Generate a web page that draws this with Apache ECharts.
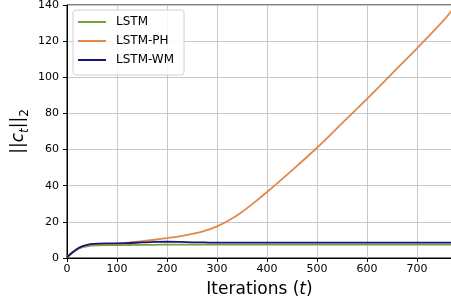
<!DOCTYPE html>
<html>
<head>
<meta charset="utf-8">
<script src="https://cdn.jsdelivr.net/npm/echarts@6/dist/echarts.min.js"></script>
<style>
  html, body { margin: 0; padding: 0; background: #fff; }
  #chart { width: 451px; height: 305px; }
</style>
</head>
<body>
<div id="chart"></div>
<script>
var iterations = [0, 10, 20, 30, 40, 50, 60, 80, 100, 125, 150, 175, 200, 225, 250, 275, 300, 325, 350, 375, 400, 450, 500, 550, 600, 650, 700, 750, 770];
var lstm   = [0.3, 2.7, 4.6, 5.8, 6.5, 6.9, 7.0, 7.1, 7.1, 7.2, 7.3, 7.3, 7.4, 7.4, 7.4, 7.4, 7.4, 7.4, 7.4, 7.4, 7.4, 7.4, 7.4, 7.4, 7.4, 7.4, 7.4, 7.4, 7.4];
var lstmPH = [0.3, 2.9, 4.9, 6.2, 7.0, 7.4, 7.6, 7.8, 8.0, 8.6, 9.3, 10.1, 11.0, 12.0, 13.3, 15.0, 17.5, 21.0, 25.5, 30.8, 36.5, 48.5, 61.0, 74.5, 88.0, 102.0, 116.0, 130.5, 137.0];
var lstmWM = [0.3, 2.9, 5.0, 6.4, 7.3, 7.8, 8.0, 8.1, 8.1, 8.3, 8.6, 8.9, 9.0, 8.9, 8.7, 8.6, 8.5, 8.5, 8.5, 8.5, 8.5, 8.5, 8.5, 8.5, 8.5, 8.5, 8.5, 8.5, 8.5];
var seriesNames = ['LSTM', 'LSTM-PH', 'LSTM-WM'];
var seriesColors = ['#74a23c', '#e0894a', '#16167a'];

function pairs(ys) {
    return iterations.map(function (x, i) {
        return [x, ys[i]];
    });
}

var font = 'DejaVu Sans';
var labelStyle = {
    n: { fontFamily: font, fontSize: 17, color: '#000', padding: [0, 0, 4, 0], verticalAlign: 'top' },
    i: { fontFamily: font, fontSize: 17, color: '#000', fontStyle: 'italic', padding: [0, 0, 4, 0], verticalAlign: 'top' },
    s: { fontFamily: font, fontSize: 12, color: '#000', fontStyle: 'italic', verticalAlign: 'bottom' },
    s2: { fontFamily: font, fontSize: 12, color: '#000', verticalAlign: 'bottom' }
};

var chart = echarts.init(document.getElementById('chart'));
chart.setOption({
    animation: false,
    textStyle: { fontFamily: font },
    grid: {
        left: 67, right: -1, top: 5, bottom: 47,
        containLabel: false,
        outerBoundsMode: 'none',
        show: true,
        borderColor: '#000',
        borderWidth: 1
    },
    legend: {
        data: seriesNames,
        orient: 'vertical',
        left: 73,
        top: 10,
        icon: 'rect',
        itemWidth: 28,
        itemHeight: 2,
        itemGap: 5,
        padding: [5, 10, 8, 5],
        backgroundColor: 'rgba(255,255,255,0.85)',
        borderColor: '#d0d0d0',
        borderWidth: 1,
        borderRadius: 3,
        textStyle: { fontFamily: font, fontSize: 12, color: '#000', padding: [0, 0, 0, 5], lineHeight: 14 }
    },
    xAxis: {
        type: 'value',
        min: 0,
        max: 770,
        interval: 100,
        name: '{n|Iterations (}{i|t}{n|)}',
        nameLocation: 'middle',
        nameGap: 23,
        nameMoveOverlap: false,
        nameTextStyle: { rich: labelStyle },
        axisLine: { show: true, lineStyle: { color: '#000', width: 1 } },
        axisTick: { show: true, length: 4, lineStyle: { color: '#000' } },
        axisLabel: { fontFamily: font, fontSize: 11, color: '#000', margin: 6, showMaxLabel: false },
        splitLine: { show: true, lineStyle: { color: '#c8c8c8', width: 1 } }
    },
    yAxis: {
        type: 'value',
        min: 0,
        max: 140,
        interval: 20,
        name: '{n|||}{i|c}{s|t}{n|||}{s2|2}',
        nameLocation: 'middle',
        nameGap: 36,
        nameMoveOverlap: false,
        nameTextStyle: { rich: labelStyle },
        axisLine: { show: true, lineStyle: { color: '#000', width: 1 } },
        axisTick: { show: true, length: 4, lineStyle: { color: '#000' } },
        axisLabel: { fontFamily: font, fontSize: 11, color: '#000', margin: 8 },
        splitLine: { show: true, lineStyle: { color: '#c8c8c8', width: 1 } }
    },
    series: [lstm, lstmPH, lstmWM].map(function (ys, k) {
        return {
            name: seriesNames[k],
            type: 'line',
            data: pairs(ys),
            smooth: 0.3,
            symbol: 'none',
            color: seriesColors[k],
            lineStyle: { width: 1.8, color: seriesColors[k] }
        };
    })
});
</script>
</body>
</html>
